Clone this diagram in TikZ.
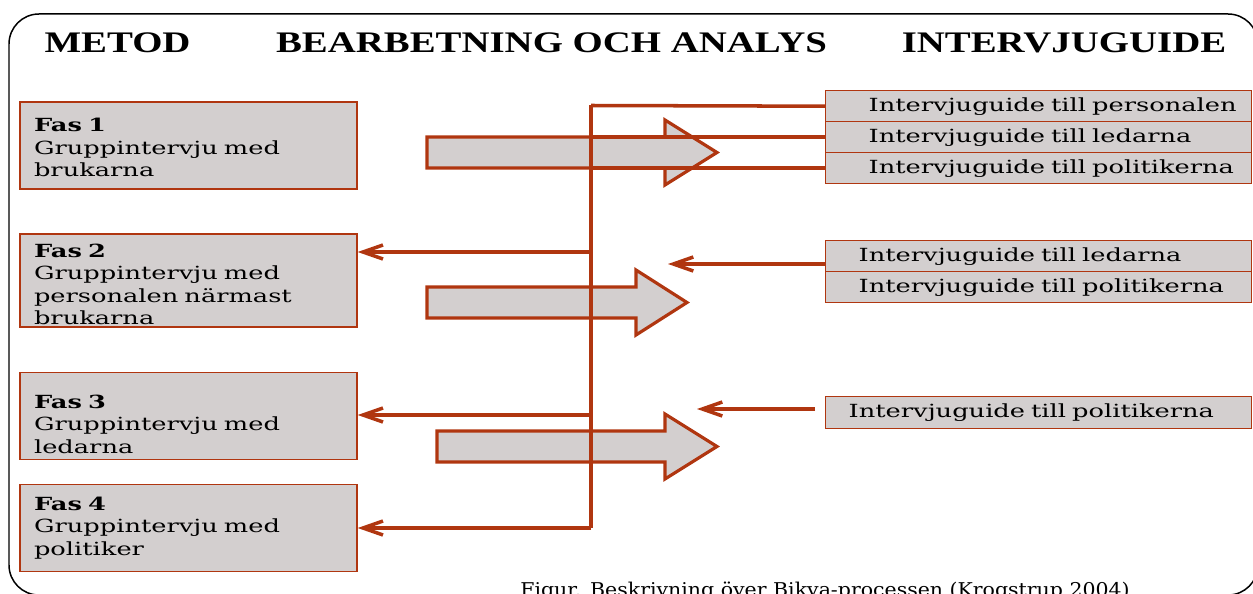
\documentclass[tikz,border=0pt]{standalone}
\usepackage{fontspec}
\newfontfamily\bodyfont[FakeStretch=1.42]{DejaVu Serif}
\newfontfamily\headfont[FakeStretch=1.3]{Liberation Serif}
\newfontfamily\capfont[FakeStretch=1.08]{DejaVu Serif}
\usetikzlibrary{arrows.meta}
\definecolor{rust}{RGB}{176,54,16}
\definecolor{boxgray}{RGB}{211,207,207}

\begin{document}
\begin{tikzpicture}[x=0.02cm,y=-0.02cm,
	>={Straight Barb[length=4mm,width=2.8mm]},
	head/.style={font=\headfont\bfseries\fontsize{17}{20}\selectfont, anchor=base},
	fasbox/.style={draw=rust, fill=boxgray, line width=0.8pt, minimum height=1.74cm, text width=6.18cm, inner xsep=0.28cm, inner ysep=0pt, align=left, font=\bodyfont\fontsize{10.3}{12.8}\selectfont},
	guidebox/.style={draw=rust, fill=boxgray, line width=0.8pt, anchor=north west, minimum height=0.62cm, text width=8.52cm, inner sep=0pt, align=left, font=\bodyfont\fontsize{10.3}{12}\selectfont, execute at begin node={\hspace*{#1}}},
	bigarrow/.style={draw=rust, fill=boxgray, line width=1.8pt},
	link/.style={draw=rust, line width=2pt},
	spine/.style={draw=rust, line width=2.8pt}]
		\useasboundingbox (0,0) rectangle (1253,594);
		\clip (0,0) rectangle (1253,594);
		%Frame
		\draw[line width=0.85pt, rounded corners=0.6cm] (9,14) rectangle (1258,595);
		%Headings
		\node[head] (metod) at (117.5,53) {METOD};
		\node[head] (analys) at (551.5,53) {BEARBETNING OCH ANALYS};
		\node[head] (guide) at (1064,53) {INTERVJUGUIDE};
		%Phases
		\node[fasbox] (fas1) at (188.5,145.5) {\rule{0pt}{10pt}\textbf{Fas 1}\\Gruppintervju med\\brukarna};
		\node[fasbox, minimum height=1.86cm] (fas2) at (188.5,280.5) {\rule{0pt}{12pt}\textbf{Fas 2}\\Gruppintervju med\\personalen närmast\\brukarna};
		\node[fasbox] (fas3) at (188.5,416) {\rule{0pt}{17pt}\textbf{Fas 3}\\Gruppintervju med\\ledarna};
		\node[fasbox] (fas4) at (188.5,528) {\textbf{Fas 4}\\Gruppintervju med\\politiker};
		%Interview guides
		\node[guidebox=0.86cm] (gA1) at (825,90) {Intervjuguide till personalen};
		\node[guidebox=0.86cm] (gA2) at (825,121) {Intervjuguide till ledarna};
		\node[guidebox=0.86cm] (gA3) at (825,152) {Intervjuguide till politikerna};
		\node[guidebox=0.66cm] (gB1) at (825,240) {Intervjuguide till ledarna};
		\node[guidebox=0.66cm] (gB2) at (825,271) {Intervjuguide till politikerna};
		\node[guidebox=0.46cm, minimum height=0.64cm] (gC1) at (825,396) {Intervjuguide till politikerna};
		%Big arrows
		\draw[bigarrow] (427,137) -- (665,137) -- (665,120) -- (717,152.5) -- (665,185) -- (665,168) -- (427,168) -- cycle;
		\draw[bigarrow] (427,287) -- (636,287) -- (636,270) -- (687,302.5) -- (636,335) -- (636,318) -- (427,318) -- cycle;
		\draw[bigarrow] (437,431) -- (665,431) -- (665,414) -- (717,446.5) -- (665,479) -- (665,462) -- (437,462) -- cycle;
		%Connectors
		\coordinate (bartop) at (591,105.5);
		\coordinate (barbot) at (591,528);
		\coordinate (f2in) at (591,252);
		\coordinate (f3in) at (591,415);
		\coordinate (gBout) at (825,264);
		\coordinate (gBtip) at (668,264);
		\coordinate (gCout) at (815,409);
		\coordinate (gCtip) at (697,409);
		\draw[spine] (bartop) -- (barbot);
		\draw[link] (gA1.west) -- (bartop);
		\draw[link] (gA2.west) -- (gA2.west -| bartop);
		\draw[link] (gA3.west) -- (gA3.west -| bartop);
		\draw[link,->] (f2in) -- (f2in -| fas2.east);
		\draw[link,->] (f3in) -- (f3in -| fas3.east);
		\draw[link,->] (barbot) -- (fas4.east);
		\draw[link,->] (gBout) -- (gBtip);
		\draw[link,->] (gCout) -- (gCtip);
		%Caption
		\node[font=\capfont\fontsize{10.8}{12}\selectfont, anchor=base] (caption) at (825,596) {Figur. Beskrivning över Bikva-processen (Krogstrup 2004)};
\end{tikzpicture}
\end{document}
